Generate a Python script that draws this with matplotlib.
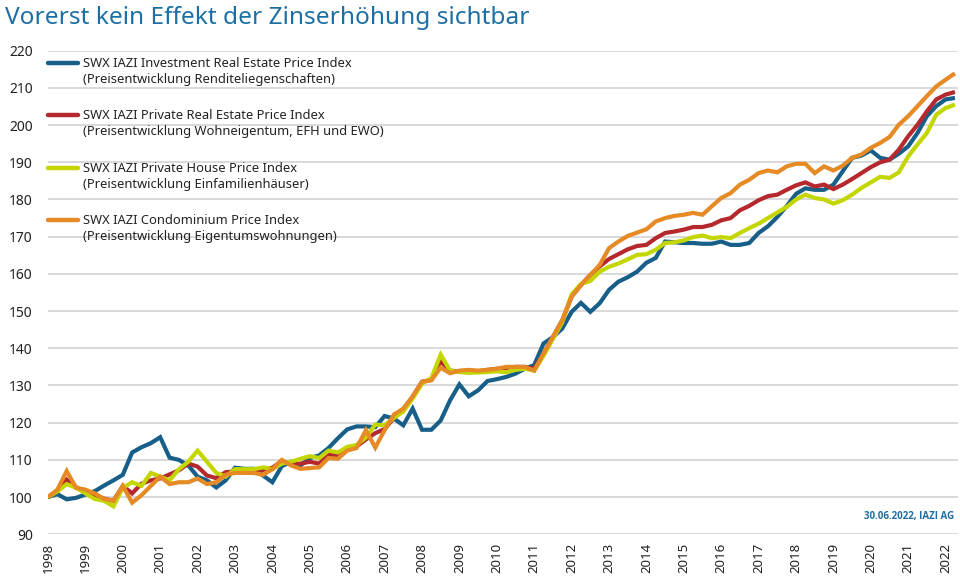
import matplotlib
matplotlib.use("Agg")
import matplotlib.pyplot as plt
from matplotlib.lines import Line2D
import numpy as np

plt.rcParams['font.family'] = ['Noto Sans', 'DejaVu Sans']

# Quarterly index values, Q1 1998 .. Q2 2022
investment = [
    100, 100.8, 99.4, 99.8,
    100.7, 101.6, 103.1, 104.5,
    106, 112, 113.4, 114.5,
    116.1, 110.6, 110, 108.5,
    105.5, 104.5, 102.6, 104.5,
    107.9, 107.6, 107.6, 105.8,
    104, 108.3, 109.5, 108.5,
    110.5, 111.2, 113.2, 115.8,
    118.2, 119, 119, 118.8,
    121.8, 121.1, 119.3, 123.8,
    118.1, 118.1, 120.6, 126,
    130.3, 127.1, 128.7, 131.2,
    131.7, 132.3, 133.2, 134.5,
    135.5, 141.3, 143, 145.3,
    149.8, 152.2, 149.8, 152.1,
    155.7, 157.9, 159.1, 160.6,
    163, 164.3, 168.7, 168.5,
    168.3, 168.3, 168.1, 168.1,
    168.7, 167.8, 167.8, 168.3,
    171, 172.8, 175.3, 178.2,
    181.5, 183, 182.6, 182.6,
    184, 187.6, 191.2, 191.8,
    193.2, 191.2, 190.7, 192.3,
    194.3, 197.9, 202.4, 205.1,
    206.9, 207.3,
]
private_re = [
    100, 101.5, 104.7, 102.7,
    101.2, 100.4, 99.6, 99,
    103, 101, 103.6, 104.5,
    105, 106.1, 107.2, 109,
    108.2, 105.8, 105.1, 106.7,
    106.9, 107, 107, 107.3,
    107.9, 109.7, 108.8, 109,
    109.5, 109, 111.5, 111.2,
    113.2, 113.6, 115.5, 117.2,
    118.3, 121.3, 123.5, 127,
    131, 131.5, 136.5, 134,
    133.8, 134, 133.8, 134.2,
    134.5, 134.6, 135, 135,
    134.5, 138.5, 143, 147.5,
    153.9, 157, 159.7, 162,
    164, 165.3, 166.6, 167.5,
    167.8, 169.6, 171, 171.4,
    171.9, 172.6, 172.6, 173.2,
    174.4, 175, 177.1, 178.3,
    179.8, 180.9, 181.3, 182.6,
    183.8, 184.6, 183.5, 184,
    182.8, 184, 185.5, 187.1,
    188.7, 190, 190.7, 193.4,
    197, 200.1, 203.7, 206.9,
    208.2, 208.9,
]
house = [
    100, 101.5, 103.5, 102.5,
    101, 99.5, 99, 97.5,
    102.5, 104, 103, 106.5,
    105.5, 104.5, 107.5, 109.5,
    112.5, 109.5, 106.5, 105.5,
    107.5, 107.5, 107.5, 108,
    107.5, 109, 109.5, 110.3,
    111, 110.5, 112.5, 112,
    113.5, 114, 116, 119.5,
    119.3, 121.3, 123, 126.5,
    130.5, 132, 138.3, 134,
    133.6, 133.4, 133.5, 133.6,
    133.8, 133.6, 134.2, 134.5,
    134, 138, 142.5, 147,
    154.5, 157.3, 158.1, 160.6,
    161.9, 162.8, 163.9, 165.1,
    165.3, 166.5, 168.3, 168.5,
    169, 169.9, 170.3, 169.6,
    169.9, 169.6, 171, 172.3,
    173.5, 175, 176.5, 178,
    180, 181.3, 180.4, 180,
    178.9, 179.8, 181.3, 183.1,
    184.6, 186.1, 185.8, 187.3,
    191.6, 194.8, 197.9, 202.8,
    204.6, 205.5,
]
condo = [
    100, 102, 107, 102.5,
    102, 101, 99.5, 99,
    103, 98.5, 100.5, 103,
    105.5, 103.5, 104, 104,
    105, 103.5, 104, 106,
    106.5, 106.5, 106.5, 106,
    107.5, 110, 108.5, 107.6,
    107.8, 108, 110.5, 110.3,
    112.5, 113.2, 118, 113.3,
    118, 122.2, 123.8, 127.1,
    131, 131.4, 134.8, 133.3,
    134, 134.2, 134, 134.2,
    134.5, 135, 135, 135,
    134, 138.6, 143.1, 147.6,
    153.9, 157, 159.7, 162.4,
    166.9, 168.7, 170.2, 171.1,
    172, 174.1, 175, 175.6,
    175.9, 176.4, 175.9, 178.2,
    180.4, 181.7, 184, 185.3,
    187.1, 187.8, 187.3, 188.9,
    189.6, 189.6, 187.1, 188.9,
    187.8, 189.1, 191.2, 192.1,
    193.9, 195.2, 196.8, 200.1,
    202.4, 205.1, 207.8, 210.4,
    212.2, 213.9,
]

series_names = [
    "SWX IAZI Investment Real Estate Price Index",
    "SWX IAZI Private Real Estate Price Index",
    "SWX IAZI Private House Price Index",
    "SWX IAZI Condominium Price Index",
]
series_sub = [
    "(Preisentwicklung Renditeliegenschaften)",
    "(Preisentwicklung Wohneigentum, EFH und EWO)",
    "(Preisentwicklung Einfamilienhäuser)",
    "(Preisentwicklung Eigentumswohnungen)",
]
colors = ["#175f88", "#b5282d", "#c4d600", "#e58a25"]
years = list(range(1998, 2023))
yticks = list(range(90, 221, 10))

x = 1998 + np.arange(len(investment)) / 4.0

W, H = 960, 585
fig = plt.figure(figsize=(W / 100, H / 100), dpi=100)
ax_left, ax_right = 48, 958
ax_top, ax_bot = 50.7, 534.3
ax = fig.add_axes([ax_left / W, (H - ax_bot) / H, (ax_right - ax_left) / W, (ax_bot - ax_top) / H])

px_per_year = 37.4
ax.set_xlim(1998, 1998 + (ax_right - ax_left) / px_per_year)
ax.set_ylim(90, 220)

for s, c in zip([investment, private_re, house, condo], colors):
    ax.plot(x, s, color=c, lw=3.0, solid_joinstyle='miter', solid_capstyle='butt', zorder=3)

ax.set_yticks(yticks)
ax.set_xticks(years)
ax.set_xticklabels([str(y) for y in years], rotation=90, fontsize=9.5, color="#222222")
ax.set_yticklabels([str(v) for v in yticks], fontsize=10, color="#222222")
ax.tick_params(axis='both', length=0)
ax.tick_params(axis='y', pad=11)
ax.tick_params(axis='x', pad=6)
ax.grid(axis='y', color="#d3d3d3", lw=1.2, zorder=0)
ax.grid(axis='x', visible=False)
for sp in ax.spines.values():
    sp.set_visible(False)
ax.set_facecolor("white")

# Title
fig.text(5 / W, 1 - 18 / H, "Vorerst kein Effekt der Zinserhöhung sichtbar",
         fontsize=17.6, color="#1d6fa3", ha='left', va='center')

# Legend (manual)
leg_y = [63.4, 114.7, 168.3, 220.0]
for yy, c, nm, sub in zip(leg_y, colors, series_names, series_sub):
    fig.add_artist(Line2D([48 / W, 78 / W], [1 - yy / H, 1 - yy / H], color=c, lw=3.2,
                          solid_capstyle='round', transform=fig.transFigure))
    fig.text(83 / W, 1 - (yy + 0.5) / H, nm, fontsize=9.3, color="#222222", ha='left', va='center')
    fig.text(83 / W, 1 - (yy + 16.5) / H, sub, fontsize=9.3, color="#222222", ha='left', va='center')

# Source note
fig.text(954 / W, 1 - 516 / H, "30.06.2022, IAZI AG", fontsize=7, fontweight='bold',
         family=['Open Sans', 'DejaVu Sans'], color="#1d6fa3", ha='right', va='center')

fig.savefig("out.png", dpi=100, facecolor="white")
